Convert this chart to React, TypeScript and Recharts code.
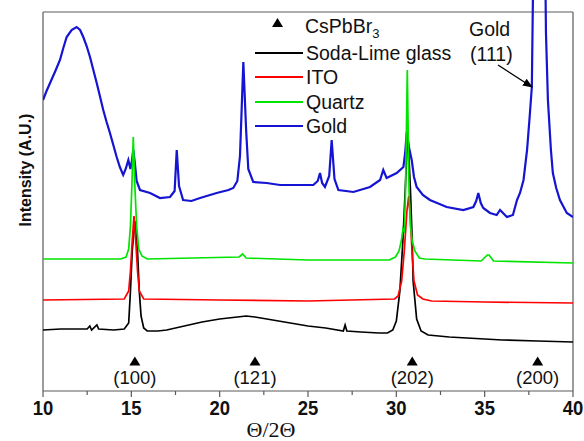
import React from 'react';
import { ComposedChart, Line, Scatter, XAxis, YAxis, ReferenceLine } from 'recharts';

// 2θ (deg) vs intensity (a.u.), curves offset vertically as in the figure
const sodaLime: [number, number][] = [
  [10, 61], [11, 62], [12, 62], [12.5, 62], [12.65, 65], [12.75, 61], [13.05, 66], [13.15, 62], [14, 61],
  [14.6, 62], [14.85, 68], [14.95, 100], [15.05, 140], [15.2, 170], [15.35, 140], [15.45, 100], [15.55, 75],
  [15.7, 63], [15.9, 60], [16.5, 60], [17, 61], [18, 65], [19, 69], [20, 72], [21, 74], [21.5, 75], [22, 74],
  [23, 71], [24, 68], [25, 65], [26, 63], [27, 60], [27.1, 66], [27.2, 60], [28, 59], [29, 58], [29.5, 58],
  [29.8, 61], [30, 70], [30.2, 100], [30.37, 150], [30.5, 200], [30.65, 260], [30.8, 200], [30.9, 150],
  [30.95, 110], [31.15, 72], [31.4, 60], [31.8, 56], [33, 54], [34, 53], [35, 52], [36, 51], [38, 50], [40, 49],
];

const ito: [number, number][] = [
  [10, 91], [14.6, 92], [14.85, 100], [14.95, 120], [15.05, 150], [15.15, 175], [15.25, 150], [15.35, 120],
  [15.45, 100], [15.7, 92], [20, 91], [25, 90], [29.9, 92], [30.1, 95], [30.3, 110], [30.45, 140], [30.6, 180],
  [30.7, 195], [30.8, 170], [30.9, 135], [31, 110], [31.2, 96], [31.5, 92], [32, 90], [35, 89], [40, 88],
];

const quartz: [number, number][] = [
  [10, 132], [14.4, 132], [14.7, 134], [14.85, 142], [14.95, 165], [15.03, 205], [15.11, 254], [15.2, 205],
  [15.3, 165], [15.42, 142], [15.6, 135], [15.9, 132], [21.1, 134], [21.3, 137], [21.5, 133], [25, 131],
  [29.6, 131], [29.95, 134], [30.15, 140], [30.28, 150], [30.38, 162], [30.45, 160], [30.52, 200], [30.62, 321],
  [30.72, 200], [30.8, 165], [30.9, 150], [31.05, 140], [31.3, 133], [31.6, 132], [34.8, 130], [35.15, 136],
  [35.25, 136], [35.5, 130], [40, 128],
];

const gold: [number, number][] = [
  [10, 291], [10.2, 300], [10.4, 308], [10.7, 320], [10.96, 331], [11.15, 343], [11.34, 354], [11.62, 361],
  [11.9, 364], [12.1, 361], [12.28, 354], [12.47, 345], [12.66, 334], [12.85, 321], [13.04, 308], [13.22, 295],
  [13.41, 281], [13.6, 269], [13.79, 258], [13.98, 246], [14.17, 234], [14.35, 224], [14.54, 216], [14.68, 222],
  [14.83, 231], [14.95, 222], [15.03, 230], [15.11, 241], [15.2, 228], [15.3, 210], [15.49, 201], [16.06, 198],
  [16.62, 193], [17.19, 194], [17.45, 200], [17.57, 241], [17.7, 205], [17.93, 191], [18.4, 190], [18.89, 193],
  [19.83, 198], [20.5, 201], [20.77, 203], [21, 210], [21.15, 235], [21.34, 329], [21.5, 260], [21.62, 222],
  [21.9, 209], [22.66, 208], [23.41, 206], [24.55, 206], [25.3, 206], [25.55, 210], [25.68, 218], [25.8, 208],
  [25.96, 204], [26.2, 215], [26.34, 251], [26.5, 212], [26.72, 201], [27.57, 199], [28.51, 204], [29.08, 211],
  [29.26, 221], [29.45, 213], [30.02, 218], [30.4, 224], [30.5, 238], [30.59, 259], [30.7, 245], [30.87, 231],
  [31, 214], [31.15, 204], [31.5, 196], [31.9, 191], [32.85, 184], [33.79, 181], [34.36, 184], [34.52, 190],
  [34.64, 198], [34.78, 188], [34.92, 183], [35.3, 178], [35.68, 176], [35.87, 181], [36.26, 174], [36.6, 176],
  [36.83, 191], [37, 198], [37.2, 211], [37.4, 241], [37.55, 275], [37.67, 304], [37.73, 391], [38.1, 600],
  [38.45, 391], [38.47, 358], [38.58, 291], [38.75, 241], [38.86, 218], [39.05, 203], [39.26, 191], [39.65, 178],
  [40, 174],
];

const seriesNames = ['Soda-Lime glass', 'ITO', 'Quartz', 'Gold'];
const seriesColors = ['#000000', '#ff0000', '#00e400', '#1414d2'];

const peakPositions = [15.2, 22.0, 30.9, 38.0];
const peakLabels = ['(100)', '(121)', '(202)', '(200)'];
const peakMarkerLevel = 30;

const xTicks = [10, 12.5, 15, 17.5, 20, 22.5, 25, 27.5, 30, 32.5, 35, 37.5, 40];
const majorTickLabels = ['10', '15', '20', '25', '30', '35', '40'];

const FRAME_TOP = 379;
const FONT = '"Liberation Sans", Arial, sans-serif';
const FRAME_COLOR = '#5a5a5a';

const toPts = (arr: [number, number][]) => arr.map(([x, y]) => ({ x, y }));
const peakData = peakPositions.map((x, i) => ({ x, y: peakMarkerLevel, label: peakLabels[i] }));

const XTick = (props: any) => {
  const { x, y, payload } = props;
  const v = payload.value;
  const label = majorTickLabels.find((t) => Number(t) === v);
  const major = label !== undefined;
  return (
    <g>
      <line x1={x} x2={x} y1={y} y2={y + (major ? 6 : 4)} stroke={FRAME_COLOR} strokeWidth={1.2} />
      {major && (
        <text
          x={x}
          y={y + 24}
          textAnchor="middle"
          fontFamily={FONT}
          fontWeight="bold"
          fontSize={18.5}
          fill="#111"
          transform={`translate(0 ${-(y + 24) * 0.12}) scale(1 1.12)`}
        >
          {label}
        </text>
      )}
    </g>
  );
};

const PeakShape = (props: any) => {
  const { cx, cy, payload } = props;
  return (
    <g>
      <polygon points={`${cx - 5.5},${cy + 4.5} ${cx + 5.5},${cy + 4.5} ${cx},${cy - 4.5}`} fill="#000" />
      <text x={cx} y={cy + 22.5} textAnchor="middle" fontFamily={FONT} fontSize={18.5} fill="#111">
        {payload.label}
      </text>
    </g>
  );
};

export default function App() {
  const legendY = [53, 77, 102, 126];
  return (
    <div style={{ position: 'absolute', left: 0, top: 0, width: 584, height: 441, background: '#fff' }}>
      <ComposedChart width={584} height={441} margin={{ top: 0, right: 11, left: 0, bottom: 0 }}>
        <XAxis
          dataKey="x"
          type="number"
          domain={[10, 40]}
          ticks={xTicks}
          interval={0}
          tickLine={false}
          tickSize={0}
          tickMargin={0}
          tick={<XTick />}
          height={50}
          axisLine={{ stroke: FRAME_COLOR, strokeWidth: 1.2 }}
          allowDataOverflow
          label={{
            content: (p: any) => {
              const vb = p.viewBox;
              return (
                <text x={vb.x + 228} y={vb.y + 46} textAnchor="middle" fontFamily='"Liberation Serif", "Times New Roman", serif' fontSize={22} fill="#111">
                  Θ/2Θ
                </text>
              );
            },
          }}
        />
        <YAxis
          type="number"
          domain={[0, 391]}
          allowDataOverflow
          width={43}
          tick={false}
          tickLine={false}
          axisLine={false}
          label={{
            content: (p: any) => {
              const vb = p.viewBox;
              const cx = vb.x + 25;
              const cy = vb.y + 170;
              return (
                <text x={cx} y={cy} transform={`rotate(-90 ${cx} ${cy})`} textAnchor="middle" dominantBaseline="central" fontFamily={FONT} fontWeight="bold" fontSize={16} fill="#111">
                  Intensity (A.U.)
                </text>
              );
            },
          }}
        />
        <ReferenceLine y={FRAME_TOP} stroke={FRAME_COLOR} strokeWidth={1.2} />
        <ReferenceLine segment={[{ x: 10, y: 0 }, { x: 10, y: FRAME_TOP }]} stroke={FRAME_COLOR} strokeWidth={1.2} />
        <ReferenceLine segment={[{ x: 40, y: 0 }, { x: 40, y: FRAME_TOP }]} stroke={FRAME_COLOR} strokeWidth={1.2} />
        <Line data={toPts(gold)} dataKey="y" type="linear" stroke={seriesColors[3]} strokeWidth={2.2} dot={false} activeDot={false} isAnimationActive={false} />
        <Line data={toPts(sodaLime)} dataKey="y" type="linear" stroke={seriesColors[0]} strokeWidth={1.7} dot={false} activeDot={false} isAnimationActive={false} />
        <Line data={toPts(ito)} dataKey="y" type="linear" stroke={seriesColors[1]} strokeWidth={1.7} dot={false} activeDot={false} isAnimationActive={false} />
        <Line data={toPts(quartz)} dataKey="y" type="linear" stroke={seriesColors[2]} strokeWidth={1.7} dot={false} activeDot={false} isAnimationActive={false} />
        <Scatter data={peakData} dataKey="y" shape={<PeakShape />} isAnimationActive={false} />
      </ComposedChart>
      <svg width={584} height={441} style={{ position: 'absolute', left: 0, top: 0, pointerEvents: 'none' }}>
        <defs>
          <marker id="arrowHead" markerWidth="10" markerHeight="8" refX="9" refY="4" orient="auto" markerUnits="userSpaceOnUse">
            <polygon points="0,0 10,4 0,8" fill="#000" />
          </marker>
        </defs>
        <polygon points="272,27 283,27 277.5,18" fill="#000" />
        <text x={305} y={33} fontFamily={FONT} fontSize={19.5} fill="#111">
          CsPbBr<tspan fontSize={13} dy={5}>3</tspan>
        </text>
        {seriesNames.map((name, i) => (
          <g key={name}>
            <line x1={255} x2={303} y1={legendY[i]} y2={legendY[i]} stroke={seriesColors[i]} strokeWidth={2} />
            <text x={306} y={legendY[i] + 7} fontFamily={FONT} fontSize={19.5} fill="#111">
              {name}
            </text>
          </g>
        ))}
        <text x={469} y={36} fontFamily={FONT} fontSize={19.5} fill="#111">Gold</text>
        <text x={470} y={61} fontFamily={FONT} fontSize={19.5} fill="#111">(111)</text>
        <line x1={498} y1={65} x2={532} y2={87} stroke="#000" strokeWidth={1.3} markerEnd="url(#arrowHead)" />
      </svg>
    </div>
  );
}
